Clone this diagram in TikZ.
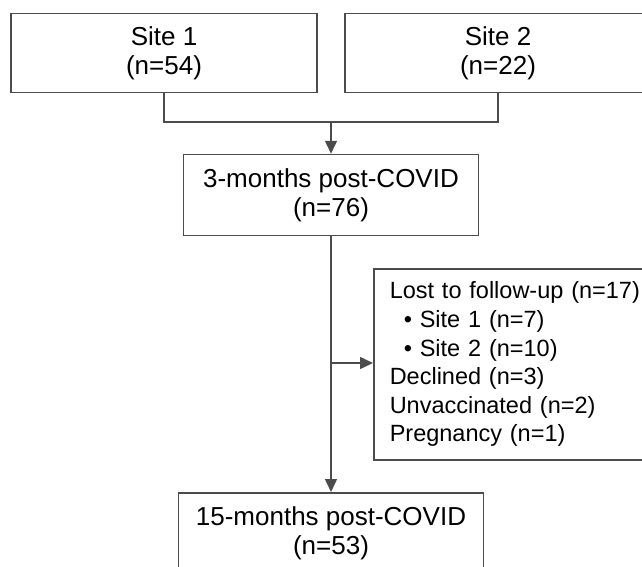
\documentclass[tikz,border=0pt]{standalone}
\usepackage{fontspec}
\setmainfont{Liberation Sans}
\usepackage{tikz}
\usetikzlibrary{arrows.meta,positioning,calc}

\begin{document}
\begin{tikzpicture}[x=1pt,y=-1pt,
  box/.style={draw=black!70,line width=1.5pt,align=center,inner sep=0pt,
    font=\fontsize{26}{28.6}\selectfont},
  line/.style={draw=black!70,line width=1.5pt},
  arr/.style={line,-{Triangle[length=13pt,width=12pt]}}]
\useasboundingbox (0,0) rectangle (642,567);
\clip (0,0) rectangle (642,567);
\node[box,minimum width=306pt,minimum height=79pt] (site1) at (164,53) {Site 1\\(n=54)};
\node[box,minimum width=306pt,minimum height=79pt] (site2) at (498,53) {Site 2\\(n=22)};
\coordinate (join) at (331,122);
\node[box,minimum width=295pt,minimum height=81pt] (m3) at (331,195) {3-months post-COVID\\(n=76)};
\node[box,minimum width=305pt,minimum height=81pt,anchor=north] (m15) at (331,492) {15-months post-COVID\\(n=53)};
\node[box,anchor=north west,align=left,text width=270pt,inner xsep=16pt,
  minimum height=191pt,font=\fontsize{23.5}{28.6}\selectfont] (lost) at (373,268)
  {Lost to follow-up (n=17)\\
   \hspace{14pt}\textbullet\ Site 1 (n=7)\\
   \hspace{14pt}\textbullet\ Site 2 (n=10)\\
   Declined (n=3)\\
   Unvaccinated (n=2)\\
   Pregnancy (n=1)};
\coordinate (split) at (331,363);
% sites merge into the first visit
\draw[line] (site1.south) |- (join) -| (site2.south);
\draw[arr] (join) -- (join |- m3.north);
% follow-up and exclusions
\draw[arr] (join |- m3.south) -- (join |- m15.north);
\draw[arr] (split) -- (split -| lost.west);
\end{tikzpicture}
\end{document}
